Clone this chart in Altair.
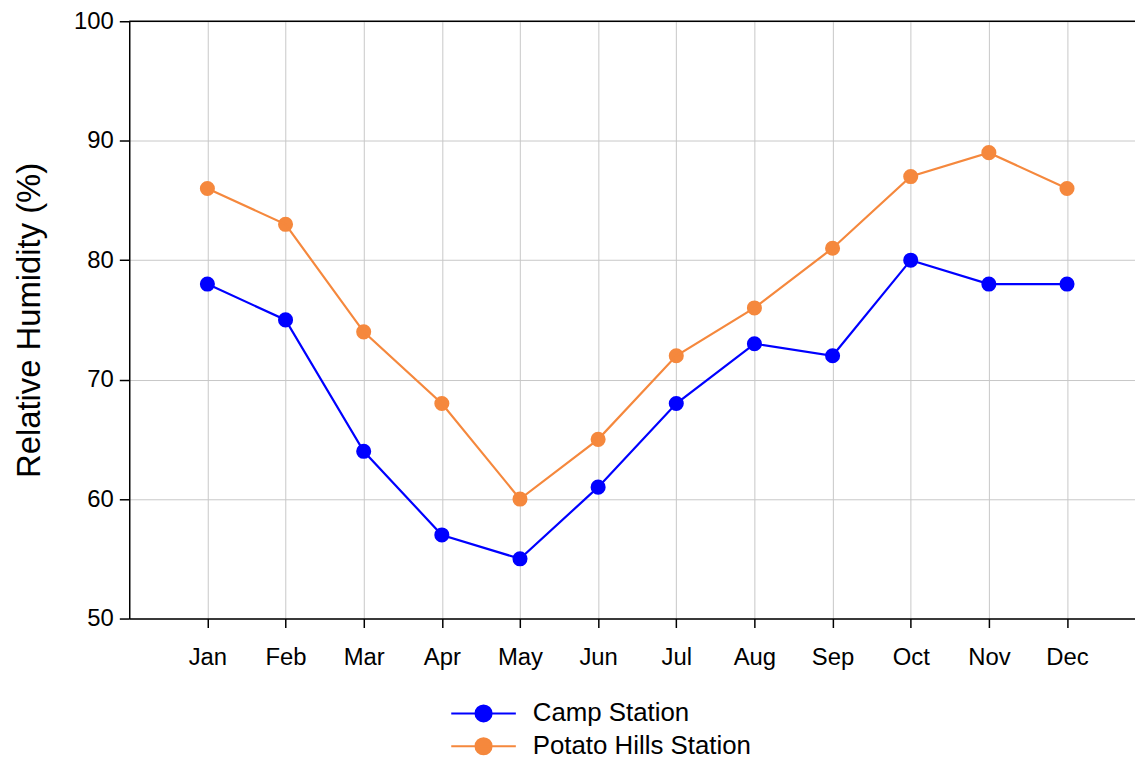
import altair as alt
import pandas as pd

months = ["Jan", "Feb", "Mar", "Apr", "May", "Jun", "Jul", "Aug", "Sep", "Oct", "Nov", "Dec"]
camp = [78, 75, 64, 57, 55, 61, 68, 73, 72, 80, 78, 78]
potato = [86, 83, 74, 68, 60, 65, 72, 76, 81, 87, 89, 86]
series = ["Camp Station", "Potato Hills Station"]
colors = ["#0000FF", "#F5883D"]

rows = []
for i, m in enumerate(months):
    rows.append({"idx": i + 1, "month": m, "station": series[0], "rh": camp[i]})
    rows.append({"idx": i + 1, "month": m, "station": series[1], "rh": potato[i]})
df = pd.DataFrame(rows)

label_expr = "[" + ",".join("'%s'" % m for m in months) + "][datum.value-1]"

x = alt.X("idx:Q", scale=alt.Scale(domain=[0, 12.87], nice=False, zero=False),
          axis=alt.Axis(values=list(range(1, 13)), labelExpr=label_expr, title=None,
                        grid=True, gridColor="#c8c8c8", gridWidth=1,
                        domainColor="black", domainWidth=1.5, tickColor="black", tickSize=9,
                        tickWidth=1.5,
                        labelFontSize=24, labelColor="black", labelFont="Liberation Sans",
                        labelPadding=18))
y = alt.Y("rh:Q", scale=alt.Scale(domain=[50, 100], nice=False, zero=False),
          axis=alt.Axis(values=[50, 60, 70, 80, 90, 100], title="Relative Humidity (%)",
                        grid=True, gridColor="#c8c8c8", gridWidth=1,
                        domainColor="black", domainWidth=1.5, tickColor="black", tickSize=10,
                        tickWidth=1.5,
                        labelFontSize=24, labelColor="black", labelFont="Liberation Sans",
                        labelPadding=6, titleFontSize=33, titleFont="Liberation Sans",
                        titleFontWeight="normal", titleColor="black", titlePadding=27))

sym = "M-1,0H1M-0.25,0A0.25,0.25,0,1,1,0.25,0A0.25,0.25,0,1,1,-0.25,0Z"
color = alt.Color("station:N", scale=alt.Scale(domain=series, range=colors),
                  legend=alt.Legend(title=None, orient="none", legendX=323, legendY=680,
                                    symbolType=sym, symbolSize=4225, symbolStrokeWidth=2,
                                    labelFontSize=26, labelFont="Liberation Sans", labelColor="black",
                                    labelLimit=500, rowPadding=0, clipHeight=33, labelOffset=16))

base = alt.Chart(df)
points = base.mark_point(filled=True, size=230, opacity=1).encode(x=x, y=y, color=color)
lines = base.mark_line(strokeWidth=2.2).encode(x=x, y=y, color=color)
top = alt.Chart(pd.DataFrame({"v": [100]})).mark_rule(color="black", strokeWidth=1.5).encode(y=alt.Y("v:Q"))

chart = alt.layer(points, lines, top).properties(
    width=1012, height=601,
    padding={"left": 122, "top": 11, "right": 0, "bottom": 140},
    autosize=alt.AutoSizeParams(type="none"),
    background="white",
).configure_view(stroke=None)

chart.save("out.html", embed_options={"renderer": "svg", "actions": False})
